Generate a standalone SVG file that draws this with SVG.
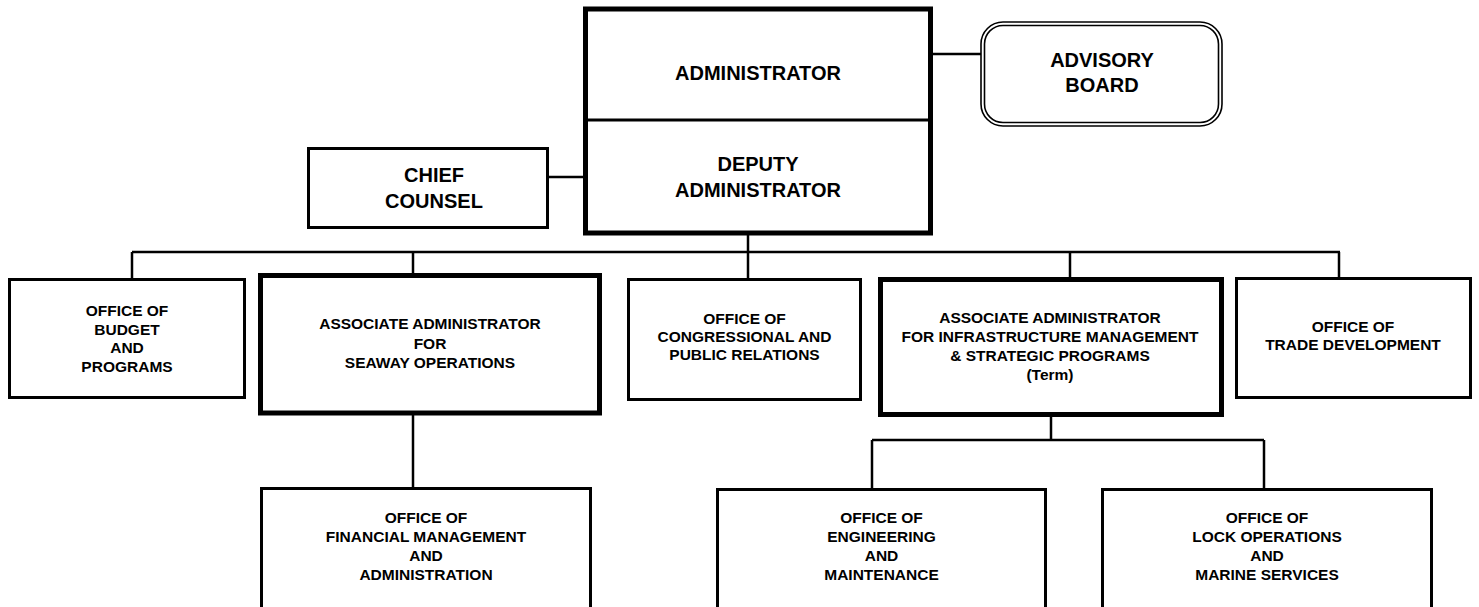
<svg xmlns="http://www.w3.org/2000/svg" width="1479" height="607" viewBox="0 0 1479 607">
<style>
.box{fill:#fff;stroke:#000;stroke-width:3}
.thick{fill:#fff;stroke:#000;stroke-width:5}
.adv{fill:none;stroke:#000;stroke-width:1.6}
.ln{fill:none;stroke:#000;stroke-width:2.5}
text{font-family:"Liberation Sans",Arial,Helvetica,sans-serif;font-weight:bold;fill:#000;text-anchor:middle}
.big{font-size:20px}
.sm{font-size:15.5px}
</style>
<rect width="1479" height="607" fill="#fff"/>
<g id="connectors">
<line class="ln" x1="933" y1="54" x2="981" y2="54"/>
<line class="ln" x1="549" y1="177" x2="584" y2="177"/>
<line class="ln" x1="748" y1="235" x2="748" y2="279"/>
<line class="ln" x1="132" y1="252" x2="1340" y2="252"/>
<line class="ln" x1="132" y1="252" x2="132" y2="279"/>
<line class="ln" x1="413" y1="252" x2="413" y2="274"/>
<line class="ln" x1="1070" y1="252" x2="1070" y2="278"/>
<line class="ln" x1="1339" y1="252" x2="1339" y2="278"/>
<line class="ln" x1="413" y1="415" x2="413" y2="488"/>
<line class="ln" x1="1051" y1="416" x2="1051" y2="440"/>
<line class="ln" x1="872" y1="440" x2="1264" y2="440"/>
<line class="ln" x1="872" y1="440" x2="872" y2="489"/>
<line class="ln" x1="1264" y1="440" x2="1264" y2="489"/>
</g>
<g id="admin">
<rect class="thick" x="585.5" y="9" width="345" height="224"/>
<line x1="585.5" y1="120" x2="930.5" y2="120" stroke="#000" stroke-width="3"/>
<text class="big" x="758" y="80">ADMINISTRATOR</text>
<text class="big" x="758" y="171">DEPUTY</text>
<text class="big" x="758" y="196.5">ADMINISTRATOR</text>
</g>
<g id="advisory">
<rect class="adv" x="981" y="22" width="241" height="104" rx="22"/>
<rect class="adv" x="984.5" y="25.5" width="234" height="97" rx="18.5"/>
<text class="big" x="1102" y="67">ADVISORY</text>
<text class="big" x="1102" y="91.5">BOARD</text>
</g>
<g id="chief">
<rect class="box" x="308.5" y="148.5" width="239" height="79"/>
<text class="big" x="434" y="182">CHIEF</text>
<text class="big" x="434" y="208">COUNSEL</text>
</g>
<g id="budget">
<rect class="box" x="9.5" y="279.5" width="235" height="118"/>
<text class="sm" x="127" y="316">OFFICE OF</text>
<text class="sm" x="127" y="334.5">BUDGET</text>
<text class="sm" x="127" y="353">AND</text>
<text class="sm" x="127" y="372">PROGRAMS</text>
</g>
<g id="seaway">
<rect class="thick" x="260.5" y="275.5" width="339" height="137.5"/>
<text class="sm" x="430" y="329">ASSOCIATE ADMINISTRATOR</text>
<text class="sm" x="430" y="348.5">FOR</text>
<text class="sm" x="430" y="367.5">SEAWAY OPERATIONS</text>
</g>
<g id="congressional">
<rect class="box" x="628.5" y="279.5" width="232" height="120"/>
<text class="sm" x="744.5" y="324">OFFICE OF</text>
<text class="sm" x="744.5" y="342">CONGRESSIONAL AND</text>
<text class="sm" x="744.5" y="360">PUBLIC RELATIONS</text>
</g>
<g id="infrastructure">
<rect class="thick" x="880.5" y="279.5" width="341" height="135"/>
<text class="sm" x="1050" y="323">ASSOCIATE ADMINISTRATOR</text>
<text class="sm" x="1050" y="342">FOR INFRASTRUCTURE MANAGEMENT</text>
<text class="sm" x="1050" y="361">&amp; STRATEGIC PROGRAMS</text>
<text class="sm" x="1050" y="380">(Term)</text>
</g>
<g id="trade">
<rect class="box" x="1236.5" y="278.5" width="234" height="119"/>
<text class="sm" x="1353" y="331.5">OFFICE OF</text>
<text class="sm" x="1353" y="350">TRADE DEVELOPMENT</text>
</g>
<g id="financial">
<rect class="box" x="261.5" y="488.5" width="329" height="150"/>
<text class="sm" x="426" y="522.5">OFFICE OF</text>
<text class="sm" x="426" y="541.5">FINANCIAL MANAGEMENT</text>
<text class="sm" x="426" y="560.5">AND</text>
<text class="sm" x="426" y="579.5">ADMINISTRATION</text>
</g>
<g id="engineering">
<rect class="box" x="717.5" y="489.5" width="328" height="150"/>
<text class="sm" x="881.5" y="522.5">OFFICE OF</text>
<text class="sm" x="881.5" y="541.5">ENGINEERING</text>
<text class="sm" x="881.5" y="560.5">AND</text>
<text class="sm" x="881.5" y="579.5">MAINTENANCE</text>
</g>
<g id="lock">
<rect class="box" x="1102.5" y="489.5" width="329" height="150"/>
<text class="sm" x="1267" y="522.5">OFFICE OF</text>
<text class="sm" x="1267" y="541.5">LOCK OPERATIONS</text>
<text class="sm" x="1267" y="560.5">AND</text>
<text class="sm" x="1267" y="579.5">MARINE SERVICES</text>
</g>
</svg>
